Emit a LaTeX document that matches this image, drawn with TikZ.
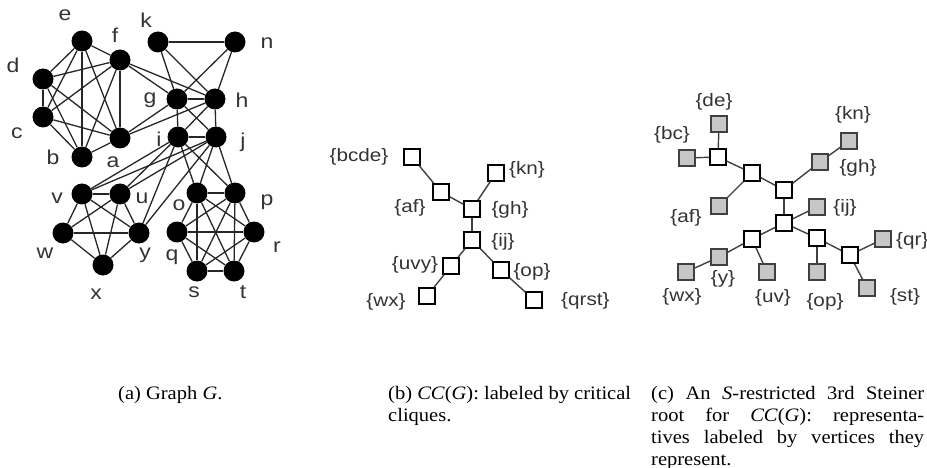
\documentclass[tikz,border=0pt]{standalone}
\usepackage{fontspec}
\setmainfont{Liberation Serif}[FakeStretch=1.08]
\newfontfamily\labelfont[FakeStretch=1.15]{Liberation Sans}
\begin{document}
\begin{tikzpicture}[x=1pt,y=-1pt,
  vtx/.style={circle,fill=black,inner sep=0pt,minimum size=21pt},
  gedge/.style={black!85,line width=1.3pt},
  vlab/.style={font=\labelfont\fontsize{20}{20}\selectfont,text=black!80,inner sep=0pt},
  ccbox/.style={rectangle,draw=black,line width=1.4pt,fill=white,inner sep=0pt,minimum width=16pt,minimum height=16pt},
  repbox/.style={ccbox,fill=black!22,draw=black!75},
  tedge/.style={black!75,line width=1.4pt},
  clab/.style={font=\labelfont\fontsize{18}{18}\selectfont,text=black!80,inner sep=0pt},
  captext/.style={font=\fontsize{19}{22}\selectfont,inner sep=0pt,anchor=base west}]
\useasboundingbox (0,0) rectangle (927,468);

% ---------- (a) the graph G ----------
\foreach \n/\px/\py in {a/120/138,b/82/157,c/43/117,d/43/79,e/82/41,f/120/60,
    g/177/99,h/215/99,k/158/42,n/235/42,i/178/137,j/216/137,
    v/82/194,u/120/194,w/63/233,y/139/233,x/103/265,
    o/197/193,p/235/193,q/177/232,r/254/232,s/197/271,t/234/271}
  \node[vtx] (v\n) at (\px,\py) {};

\foreach \p/\q in {a/b,a/c,a/d,a/e,a/f,b/c,b/d,b/e,b/f,c/d,c/e,c/f,d/e,d/f,e/f,
    a/g,a/h,f/g,f/h,
    g/h,g/k,g/n,h/k,h/n,k/n,
    g/i,g/j,h/i,h/j,i/j,
    i/u,i/v,i/y,j/u,j/v,j/y,
    u/v,u/w,u/x,u/y,v/w,v/x,v/y,w/x,w/y,x/y,
    i/o,i/p,j/o,j/p,
    o/p,o/q,o/r,o/s,o/t,p/q,p/r,p/s,p/t,q/r,q/s,q/t,r/s,r/t,s/t}
  \draw[gedge] (v\p) -- (v\q);

\foreach \n/\px/\py in {e/65/15,f/115/35,d/13/65,c/17/133,b/53/157,a/113/162,
    k/146/20,n/267/43,g/150/100,h/242/100,i/159/139,j/243/142,
    v/57/198,u/142/198,w/45/253,y/145/255,x/96/294,
    o/179/205,p/267/202,q/172/257,r/277/247,s/194/292,t/243/292}
  \node[vlab] (l\n) at (\px,\py) {\n};

% ---------- (b) the critical clique graph CC(G) ----------
\node[ccbox] (bbcde) at (412,157) {};
\node[ccbox] (baf)   at (441,192) {};
\node[ccbox] (bgh)   at (472,209) {};
\node[ccbox] (bkn)   at (496,173) {};
\node[ccbox] (bij)   at (472,240) {};
\node[ccbox] (buvy)  at (451,266) {};
\node[ccbox] (bwx)   at (427,296) {};
\node[ccbox] (bop)   at (501,270) {};
\node[ccbox] (bqrst) at (534,300) {};

\foreach \p/\q in {bcde/af,af/gh,gh/kn,gh/ij,ij/uvy,uvy/wx,ij/op,op/qrst}
  \draw[tedge] (b\p) -- (b\q);

\node[clab] (lbbcde) at (359,157) {\{bcde\}};
\node[clab] (lbaf)   at (410,208) {\{af\}};
\node[clab] (lbgh)   at (510,210) {\{gh\}};
\node[clab] (lbkn)   at (527,170) {\{kn\}};
\node[clab] (lbij)   at (503,242) {\{ij\}};
\node[clab] (lbuvy)  at (415,265) {\{uvy\}};
\node[clab] (lbwx)   at (386,302) {\{wx\}};
\node[clab] (lbop)   at (532,272) {\{op\}};
\node[clab,anchor=west] (lbqrst) at (561,301) {\{qrst\}};

% ---------- (c) the Steiner root ----------
% Steiner points
\node[ccbox] (sA) at (718,157) {};
\node[ccbox] (sB) at (752,173) {};
\node[ccbox] (sC) at (784,190) {};
\node[ccbox] (sD) at (784,223) {};
\node[ccbox] (sE) at (752,239) {};
\node[ccbox] (sF) at (817,238) {};
\node[ccbox] (sG) at (850,255) {};
% representatives
\node[repbox] (rbc) at (687,158) {};
\node[repbox] (rde) at (719,124) {};
\node[repbox] (raf) at (719,206) {};
\node[repbox] (rgh) at (820,162) {};
\node[repbox] (rkn) at (849,141) {};
\node[repbox] (rij) at (817,207) {};
\node[repbox] (ry)  at (719,257) {};
\node[repbox] (rwx) at (686,272) {};
\node[repbox] (ruv) at (767,272) {};
\node[repbox] (rop) at (817,272) {};
\node[repbox] (rqr) at (883,239) {};
\node[repbox] (rst) at (867,288) {};

\foreach \p/\q in {sA/rbc,sA/rde,sA/sB,sB/raf,sB/sC,sC/rgh,rgh/rkn,sC/sD,
    sD/rij,sD/sE,sD/sF,sE/ry,ry/rwx,sE/ruv,sF/rop,sF/sG,sG/rqr,sG/rst}
  \draw[tedge] (\p) -- (\q);

\node[clab] (lcde) at (714,102) {\{de\}};
\node[clab] (lcbc) at (672,135) {\{bc\}};
\node[clab] (lcaf) at (686,218) {\{af\}};
\node[clab] (lckn) at (853,115) {\{kn\}};
\node[clab] (lcgh) at (858,168) {\{gh\}};
\node[clab] (lcij) at (845,208) {\{ij\}};
\node[clab,anchor=west] (lcqr) at (896,241) {\{qr\}};
\node[clab] (lcst) at (905,297) {\{st\}};
\node[clab] (lcop) at (825,302) {\{op\}};
\node[clab] (lcuv) at (773,298) {\{uv\}};
\node[clab] (lcy)  at (723,279) {\{y\}};
\node[clab] (lcwx) at (682,297) {\{wx\}};

% ---------- captions ----------
\node[captext] (capa) at (118,399) {(a) Graph \textit{G}.};
\node[captext] (capb1) at (388,399) {(b) \textit{CC}(\textit{G}): labeled by critical};
\node[captext] (capb2) at (388,421) {cliques.};
\node[captext] (capc1) at (651,399) {\makebox[273pt][s]{(c) An \textit{S}-restricted 3rd Steiner}};
\node[captext] (capc2) at (651,421) {\makebox[273pt][s]{root for \textit{CC}(\textit{G}): representa-}};
\node[captext] (capc3) at (651,443) {\makebox[273pt][s]{tives labeled by vertices they}};
\node[captext] (capc4) at (651,465) {represent.};
\end{tikzpicture}
\end{document}
